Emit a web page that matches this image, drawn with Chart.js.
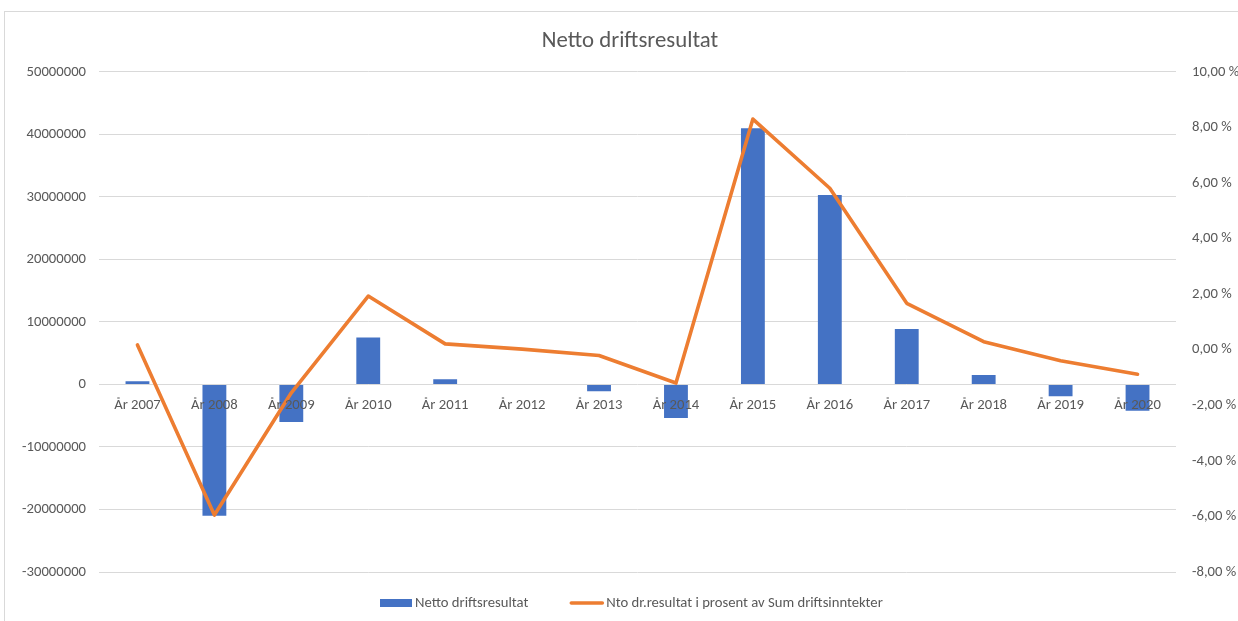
<!DOCTYPE html>
<html>
<head>
<meta charset="utf-8">
<script src="https://cdn.jsdelivr.net/npm/chart.js@4.4.1/dist/chart.umd.min.js"></script>
<style>
  html, body { margin: 0; padding: 0; background: #fff; }
  #frame { position: absolute; left: 4px; top: 11px; width: 1300px; height: 700px;
           border-top: 1px solid #d9d9d9; border-left: 1px solid #d9d9d9; }
  #wrap { position: absolute; left: 0; top: 0; width: 1238px; height: 621px; }
</style>
</head>
<body>
<div id="frame"></div>
<div id="wrap"><canvas id="c"></canvas></div>
<script>
const categories = ["År 2007","År 2008","År 2009","År 2010","År 2011","År 2012","År 2013",
                    "År 2014","År 2015","År 2016","År 2017","År 2018","År 2019","År 2020"];
const nettoDriftsresultat = [530000, -21000000, -6000000, 7500000, 850000, 0, -1070000,
                             -5350000, 41000000, 30300000, 8850000, 1500000, -1870000, -4200000];
const ntoProsent = [0.17, -5.95, -1.55, 1.93, 0.21, 0.02, -0.21,
                    -1.2, 8.3, 5.81, 1.67, 0.29, -0.40, -0.88];
const leftTicks = [-30000000, -20000000, -10000000, 0, 10000000, 20000000, 30000000, 40000000, 50000000];
const rightTicks = [-8, -6, -4, -2, 0, 2, 4, 6, 8, 10];
const seriesNames = ["Netto driftsresultat", "Nto dr.resultat i prosent av Sum driftsinntekter"];

const FONT = "Carlito, Lato, 'Liberation Sans', sans-serif";
const TXT = "#595959";
const BLUE = "#4472C4";
const ORANGE = "#ED7D31";
const TICK = 14.67;

// Legend drawn with the chart's own dataset colours/labels, Excel-style spacing
const excelLegend = {
  id: "excelLegend",
  afterDraw(chart) {
    const ctx = chart.ctx;
    const ds = chart.data.datasets;
    ctx.save();
    ctx.font = TICK + "px " + FONT;
    ctx.textBaseline = "middle";
    ctx.textAlign = "left";
    const y = 603;
    let x = 380;
    ctx.fillStyle = ds[0].backgroundColor;
    ctx.fillRect(x, y - 4, 32, 8);
    ctx.fillStyle = TXT;
    ctx.fillText(ds[0].label, x + 35, y);
    x = x + 35 + ctx.measureText(ds[0].label).width + 42;
    ctx.strokeStyle = ds[1].borderColor;
    ctx.lineWidth = ds[1].borderWidth;
    ctx.lineCap = "round";
    ctx.beginPath(); ctx.moveTo(x + 1, y); ctx.lineTo(x + 32, y); ctx.stroke();
    ctx.fillStyle = TXT;
    ctx.fillText(ds[1].label, x + 36, y);
    ctx.restore();
  }
};

new Chart(document.getElementById("c"), {
  data: {
    labels: categories,
    datasets: [
      { type: "bar", label: seriesNames[0], data: nettoDriftsresultat, yAxisID: "y",
        backgroundColor: BLUE, categoryPercentage: 1, barPercentage: 0.31, order: 2 },
      { type: "line", label: seriesNames[1], data: ntoProsent, yAxisID: "y1",
        borderColor: ORANGE, borderWidth: 3.6, pointRadius: 0, tension: 0,
        borderJoinStyle: "round", borderCapStyle: "round", fill: false, order: 1 }
    ]
  },
  plugins: [excelLegend],
  options: {
    responsive: true, maintainAspectRatio: false, animation: false,
    layout: { padding: { left: 22, right: 0, top: 0, bottom: 49 } },
    plugins: {
      title: { display: true, text: "Netto driftsresultat", color: TXT,
               font: { family: FONT, size: 22.8, weight: "normal" }, padding: { top: 28, bottom: 16.5 } },
      legend: { display: false },
      tooltip: { enabled: false }
    },
    scales: {
      x: { type: "category", position: { y: 0 },
           grid: { display: false, drawTicks: false }, border: { display: false },
           ticks: { z: 1, color: TXT, font: { family: FONT, size: TICK }, padding: 12, maxRotation: 0, autoSkip: false } },
      y: { type: "linear", position: "left", min: -30000000, max: 50000000,
           afterBuildTicks: s => { s.ticks = leftTicks.map(v => ({ value: v })); },
           afterFit: s => { s.width = 77; },
           grid: { color: "#d9d9d9", lineWidth: 1, drawTicks: false }, border: { display: false },
           ticks: { color: TXT, font: { family: FONT, size: TICK }, padding: 13,
                    callback: v => String(v) } },
      y1: { type: "linear", position: "right", min: -8, max: 10,
            afterBuildTicks: s => { s.ticks = rightTicks.map(v => ({ value: v })); },
            afterFit: s => { s.width = 62; },
            grid: { display: false, drawTicks: false }, border: { display: false },
            ticks: { color: TXT, font: { family: FONT, size: TICK }, padding: 16,
                     callback: v => v.toFixed(2).replace(".", ",") + " %" } }
    }
  }
});
</script>
</body>
</html>
